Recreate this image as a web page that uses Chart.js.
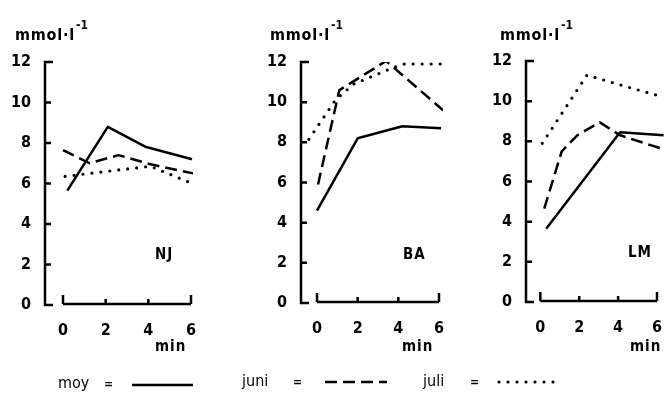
<!DOCTYPE html>
<html>
<head>
<meta charset="utf-8">
<script src="https://cdn.jsdelivr.net/npm/chart.js@4.4.0/dist/chart.umd.min.js"></script>
<style>
  body { margin: 0; background: #fff; }
  #wrap { position: relative; width: 670px; height: 399px; overflow: hidden; background: #fff; }
  canvas { position: absolute; left: 0; top: 0; }
  .txt { position: absolute; font-family: 'DejaVu Sans Condensed', 'DejaVu Sans', sans-serif; font-weight: bold; color: #000; white-space: nowrap; line-height: 1; }
  .unit { font-size: 16px; letter-spacing: 0.8px; }
  .unit sup { font-size: 12px; position: relative; top: -5px; letter-spacing: 0; margin-left: 1px; }
  .lab { font-size: 15px; letter-spacing: 1px; }
  .leg { font-size: 16px; font-weight: normal; }
  .eq { font-size: 12px; }
</style>
</head>
<body>
<div id="wrap">
  <canvas id="c1" width="670" height="399"></canvas>
  <canvas id="c2" width="670" height="399"></canvas>
  <canvas id="c3" width="670" height="399"></canvas>

  <div class="txt unit" style="left:15px; top:24px;">mmol·l<sup>-1</sup></div>
  <div class="txt unit" style="left:270px; top:24px;">mmol·l<sup>-1</sup></div>
  <div class="txt unit" style="left:500px; top:24px;">mmol·l<sup>-1</sup></div>

  <div class="txt lab" style="left:155px; top:247px;">NJ</div>
  <div class="txt lab" style="left:403px; top:247px;">BA</div>
  <div class="txt lab" style="left:628px; top:245px;">LM</div>

  <div class="txt lab" style="left:155px; top:339px;">min</div>
  <div class="txt lab" style="left:402px; top:339px;">min</div>
  <div class="txt lab" style="left:630px; top:339px;">min</div>

  <div class="txt leg" style="left:58px; top:375px;">moy</div>
  <div class="txt eq" style="left:104px; top:378px;">=</div>
  <div class="txt leg" style="left:242px; top:373px;">juni</div>
  <div class="txt eq" style="left:293px; top:376px;">=</div>
  <div class="txt leg" style="left:423px; top:373px;">juli</div>
  <div class="txt eq" style="left:470px; top:376px;">=</div>
</div>

<script>
// Values, [minutes, mmol/l]
const njMoy = [[0.2, 5.65], [2.1, 8.8], [3.9, 7.8], [6.05, 7.2]];
const njJuni = [[0, 7.65], [1.25, 7.0], [2.6, 7.4], [4.1, 6.95], [6.1, 6.5]];
const njJuli = [[0.1, 6.35], [2.05, 6.6], [4.1, 6.85], [6.05, 6.0]];

const baMoy = [[0, 4.6], [2, 8.2], [4.2, 8.8], [6.1, 8.7]];
const baJuni = [[0.05, 5.9], [1.1, 10.6], [3.4, 12.05], [6.2, 9.6]];
const baJuli = [[-0.4, 8.15], [0.9, 10.1], [1.8, 10.9], [3.7, 11.7], [4.3, 11.9], [6.2, 11.9]];

const lmMoy = [[0.3, 3.65], [4.1, 8.45], [6.35, 8.3]];
const lmJuni = [[0.2, 4.65], [1.1, 7.5], [1.9, 8.3], [3.05, 8.95], [4.1, 8.3], [6.35, 7.6]];
const lmJuli = [[0.1, 7.9], [2.4, 11.3], [4.5, 10.7], [6.35, 10.2]];

const xTicks = [0, 2, 4, 6];
const yMax = 12;

const fontFamily = "'DejaVu Sans Condensed', 'DejaVu Sans', sans-serif";

// line styles for the three months
const styles = {
  moy: { borderWidth: 2.5, borderDash: [], borderCapStyle: "butt" },
  juni: { borderWidth: 2.5, borderDash: [12, 6], borderCapStyle: "butt" },
  juli: { borderWidth: 3.2, borderDash: [0, 9], borderCapStyle: "round" },
};

function makeLine(points, style) {
  return {
    data: points.map((p) => ({ x: p[0], y: p[1] })),
    borderColor: "#000",
    borderWidth: style.borderWidth,
    borderDash: style.borderDash,
    borderCapStyle: style.borderCapStyle,
    borderJoinStyle: "round",
    pointRadius: 0,
    fill: false,
    tension: 0,
  };
}

// Hand drawn axes: y axis with inward ticks, detached x axis with upward ticks
const axesPlugin = {
  id: "axes",
  afterDraw(chart) {
    const ctx = chart.ctx;
    const xs = chart.scales.x;
    const ys = chart.scales.y;
    const left = chart.chartArea.left;
    ctx.save();
    ctx.strokeStyle = "#000";
    ctx.lineWidth = 2.5;
    ctx.lineCap = "butt";
    ctx.beginPath();
    ctx.moveTo(left + 8, ys.getPixelForValue(yMax));
    ctx.lineTo(left, ys.getPixelForValue(yMax));
    ctx.lineTo(left, ys.getPixelForValue(0));
    ctx.lineTo(left + 8, ys.getPixelForValue(0));
    for (let v = 2; v < yMax; v += 2) {
      const y = ys.getPixelForValue(v);
      ctx.moveTo(left, y);
      ctx.lineTo(left + 6, y);
    }
    ctx.stroke();

    const base = ys.getPixelForValue(0) - 1;
    ctx.beginPath();
    ctx.moveTo(xs.getPixelForValue(0), base);
    ctx.lineTo(xs.getPixelForValue(6), base);
    xTicks.forEach((t, i) => {
      const h = i === 0 || i === xTicks.length - 1 ? 9 : 5;
      const x = xs.getPixelForValue(t);
      ctx.moveTo(x, base);
      ctx.lineTo(x, base - h);
    });
    ctx.stroke();
    ctx.restore();
  },
};

// Legend line samples under the panels
const legendPlugin = {
  id: "legendSamples",
  afterDraw(chart) {
    const ctx = chart.ctx;
    const samples = [
      [styles.moy, 132, 193, 385],
      [styles.juni, 325, 387, 382],
      [styles.juli, 499, 558, 382],
    ];
    ctx.save();
    ctx.strokeStyle = "#000";
    samples.forEach(([s, x0, x1, y]) => {
      ctx.lineWidth = s.borderWidth;
      ctx.setLineDash(s.borderDash);
      ctx.lineCap = s.borderCapStyle;
      ctx.beginPath();
      ctx.moveTo(x0, y);
      ctx.lineTo(x1, y);
      ctx.stroke();
    });
    ctx.restore();
  },
};

const panels = [
  { id: "c1", axisX: 45, zeroX: 63, sixX: 191, top: 62, bottom: 305, xMax: 6.1, series: [njMoy, njJuni, njJuli] },
  { id: "c2", axisX: 301, zeroX: 317, sixX: 439, top: 62, bottom: 303, xMax: 6.2, series: [baMoy, baJuni, baJuli] },
  { id: "c3", axisX: 526, zeroX: 541, sixX: 663, top: 61, bottom: 302, xMax: 6.35, series: [lmMoy, lmJuni, lmJuli] },
];

const Y_SCALE_W = 40;
const X_SCALE_H = 60;

panels.forEach((p, idx) => {
  const pxPerUnit = (p.sixX - p.zeroX) / 6;
  const xMin = -(p.zeroX - p.axisX) / pxPerUnit;
  const right = p.zeroX + p.xMax * pxPerUnit;

  new Chart(document.getElementById(p.id), {
    type: "line",
    data: {
      datasets: [
        makeLine(p.series[0], styles.moy),
        makeLine(p.series[1], styles.juni),
        makeLine(p.series[2], styles.juli),
      ],
    },
    options: {
      responsive: false,
      animation: false,
      events: [],
      layout: {
        padding: {
          left: p.axisX - Y_SCALE_W,
          right: 670 - right,
          top: p.top,
          bottom: 399 - p.bottom - X_SCALE_H,
        },
      },
      plugins: { legend: { display: false }, tooltip: { enabled: false } },
      scales: {
        x: {
          type: "linear",
          min: xMin,
          max: p.xMax,
          grid: { display: false },
          border: { display: false },
          afterBuildTicks: (scale) => {
            scale.ticks = xTicks.map((v) => ({ value: v }));
          },
          afterFit: (scale) => {
            scale.height = X_SCALE_H;
          },
          ticks: {
            color: "#000",
            padding: 8,
            maxRotation: 0,
            font: { family: fontFamily, size: 16, weight: "bold" },
          },
        },
        y: {
          type: "linear",
          min: 0,
          max: yMax,
          grid: { display: false },
          border: { display: false },
          afterFit: (scale) => {
            scale.width = Y_SCALE_W;
          },
          ticks: {
            stepSize: 2,
            color: "#000",
            padding: 6,
            font: { family: fontFamily, size: 16, weight: "bold" },
          },
        },
      },
    },
    plugins: idx === 0 ? [axesPlugin, legendPlugin] : [axesPlugin],
  });
});
</script>
</body>
</html>
